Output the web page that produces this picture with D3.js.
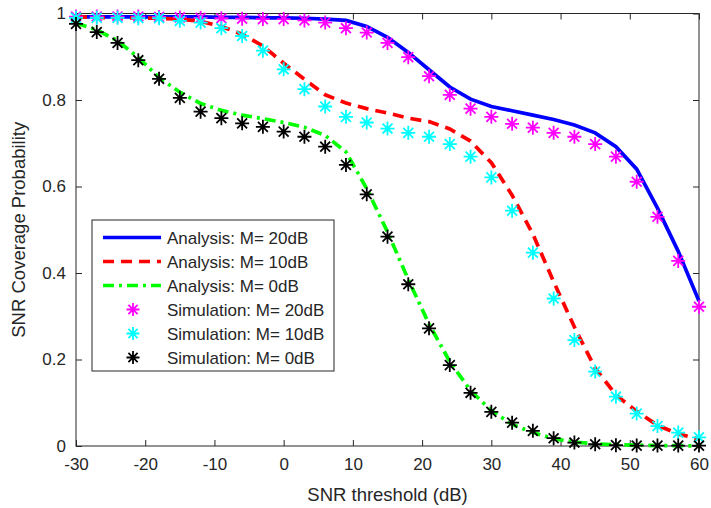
<!DOCTYPE html>
<html>
<head>
<meta charset="utf-8">
<script src="https://cdn.jsdelivr.net/npm/d3@7"></script>
<style>
  body { margin: 0; background: #fff; }
  text { font-family: "Liberation Sans", Arial, sans-serif; fill: #262626; }
</style>
</head>
<body>
<div id="chart"></div>
<script>
// SNR threshold grid (dB)
const snr = d3.range(-30, 61, 3)

// analysis curves
const ana20 = [0.992,0.992,0.992,0.992,0.992,0.992,0.992,0.991,0.991,0.990,0.990,0.989,0.987,0.984,0.970,0.945,0.910,0.870,0.830,0.802,0.785,0.775,0.765,0.755,0.742,0.724,0.692,0.640,0.550,0.450,0.335]
const ana10 = [0.992,0.991,0.990,0.990,0.989,0.987,0.982,0.970,0.952,0.925,0.885,0.848,0.812,0.793,0.780,0.770,0.758,0.750,0.733,0.705,0.655,0.580,0.490,0.380,0.275,0.180,0.118,0.080,0.048,0.028,0.016]
const ana0  = [0.978,0.962,0.937,0.898,0.852,0.818,0.792,0.776,0.765,0.757,0.748,0.737,0.718,0.680,0.595,0.495,0.385,0.282,0.195,0.128,0.082,0.050,0.031,0.017,0.009,0.005,0.003,0.002,0.001,0.001,0.000]

// simulation points
const sim20 = [0.993,0.993,0.993,0.993,0.992,0.991,0.990,0.989,0.988,0.987,0.987,0.984,0.979,0.966,0.956,0.932,0.899,0.855,0.812,0.780,0.761,0.745,0.736,0.724,0.715,0.698,0.669,0.611,0.530,0.428,0.322]
const sim10 = [0.990,0.990,0.990,0.989,0.989,0.983,0.979,0.966,0.948,0.914,0.871,0.825,0.785,0.761,0.748,0.734,0.724,0.715,0.698,0.669,0.621,0.544,0.447,0.341,0.245,0.172,0.114,0.075,0.046,0.031,0.020]
const sim0  = [0.976,0.957,0.932,0.892,0.849,0.805,0.773,0.758,0.746,0.738,0.727,0.715,0.692,0.650,0.582,0.484,0.374,0.272,0.187,0.123,0.079,0.054,0.035,0.018,0.008,0.004,0.002,0.001,0.001,0.001,0.001]

const xTicks = [-30,-20,-10,0,10,20,30,40,50,60]
const yTicks = [0,0.2,0.4,0.6,0.8,1]

const W = 711, H = 508
const margin = {top: 13.5, right: 12, bottom: 62, left: 76}

const svg = d3.select("#chart").append("svg")
  .attr("width", W).attr("height", H)

const x = d3.scaleLinear().domain([-30, 60]).range([margin.left, W - margin.right])
const y = d3.scaleLinear().domain([0, 1]).range([H - margin.bottom, margin.top])

const lines = [
  {name: "Analysis: M= 20dB", vals: ana20, color: "#0000ff", dash: null},
  {name: "Analysis: M= 10dB", vals: ana10, color: "#ff0000", dash: "11,7"},
  {name: "Analysis: M= 0dB",  vals: ana0,  color: "#00ff00", dash: "11,5,3,5"},
]
const sims = [
  {name: "Simulation: M= 20dB", vals: sim20, color: "#ff00ff"},
  {name: "Simulation: M= 10dB", vals: sim10, color: "#00ffff"},
  {name: "Simulation: M= 0dB",  vals: sim0,  color: "#000000"},
]

// axes box
const axCol = "#262626"
svg.append("rect")
  .attr("x", x(-30)).attr("y", y(1))
  .attr("width", x(60) - x(-30)).attr("height", y(0) - y(1))
  .attr("fill", "none").attr("stroke", axCol).attr("stroke-width", 1)

const fmt = d => String(d)
const gx = svg.append("g").attr("transform", `translate(0,${y(0)})`)
  .call(d3.axisBottom(x).tickValues(xTicks).tickSize(-6).tickPadding(12).tickFormat(fmt))
const gxt = svg.append("g").attr("transform", `translate(0,${y(1)})`)
  .call(d3.axisTop(x).tickValues(xTicks).tickSize(-6).tickFormat(""))
const gy = svg.append("g").attr("transform", `translate(${x(-30)},0)`)
  .call(d3.axisLeft(y).tickValues(yTicks).tickSize(-6).tickPadding(10).tickFormat(fmt))
const gyr = svg.append("g").attr("transform", `translate(${x(60)},0)`)
  .call(d3.axisRight(y).tickValues(yTicks).tickSize(-6).tickFormat(""))

;[gx, gxt, gy, gyr].forEach(g => {
  g.select(".domain").remove()
  g.selectAll(".tick line").attr("stroke", axCol)
  g.selectAll("text").attr("fill", axCol).style("font-size", "17px")
    .style("font-family", '"Liberation Sans", Arial, sans-serif')
})

// curves
const lineGen = d3.line().x((d, i) => x(snr[i])).y(d => y(d))
lines.forEach(s => {
  svg.append("path")
    .datum(s.vals)
    .attr("d", lineGen)
    .attr("fill", "none")
    .attr("stroke", s.color)
    .attr("stroke-width", 3.7)
    .attr("stroke-dasharray", s.dash)
})

// asterisk marker
function star(g, cx, cy, r, color) {
  const d = r * Math.SQRT1_2
  const p = `M${cx - r},${cy}L${cx + r},${cy}M${cx},${cy - r}L${cx},${cy + r}` +
            `M${cx - d},${cy - d}L${cx + d},${cy + d}M${cx - d},${cy + d}L${cx + d},${cy - d}`
  g.append("path").attr("d", p).attr("stroke", color).attr("stroke-width", 1.8).attr("fill", "none")
}

sims.forEach(s => {
  const g = svg.append("g")
  s.vals.forEach((v, i) => star(g, x(snr[i]), y(v), 7, s.color))
})

// legend
const lg = svg.append("g")
const lx = 92, ly = 220, lw = 242, lh = 151
lg.append("rect").attr("x", lx).attr("y", ly).attr("width", lw).attr("height", lh)
  .attr("fill", "#fff").attr("stroke", axCol).attr("stroke-width", 1)
const items = lines.concat(sims)
items.forEach((s, i) => {
  const cy = 237.5 + i * 24
  if (s.dash !== undefined) {
    lg.append("line").attr("x1", 103).attr("x2", 161).attr("y1", cy).attr("y2", cy)
      .attr("stroke", s.color).attr("stroke-width", 3.7).attr("stroke-dasharray", s.dash)
  } else {
    star(lg, 133, cy, 6.5, s.color)
  }
  lg.append("text").attr("x", 167).attr("y", cy).attr("dy", "0.36em")
    .style("font-size", "17px").text(s.name)
})

// axis titles
svg.append("text")
  .attr("x", (x(-30) + x(60)) / 2).attr("y", 501)
  .attr("text-anchor", "middle").style("font-size", "18.5px")
  .text("SNR threshold (dB)")
svg.append("text")
  .attr("transform", `translate(25,${(y(0) + y(1)) / 2}) rotate(-90)`)
  .attr("text-anchor", "middle").style("font-size", "18.5px")
  .text("SNR Coverage Probability")
</script>
</body>
</html>
